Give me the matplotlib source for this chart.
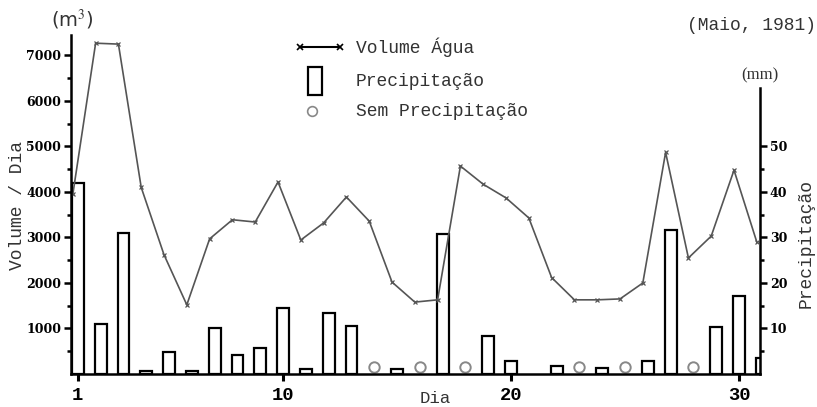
import matplotlib
matplotlib.use('Agg')
import matplotlib.pyplot as plt
from matplotlib.lines import Line2D
from matplotlib.patches import Rectangle

# daily values, May 1981
days = list(range(1, 32))
volume = [3950, 7270, 7250, 4100, 2620, 1520, 2970, 3390, 3340, 4220,
          2945, 3320, 3890, 3360, 2020, 1580, 1630, 4570, 4170, 3870,
          3430, 2120, 1630, 1630, 1650, 2000, 4870, 2550, 3030, 4480, 2900]
# precipitation in mm (None = no data drawn)
precip = [42.0, 11.0, 31.0, 0.7, 4.8, 0.7, 10.1, 4.2, 5.7, 14.5,
          1.1, 13.4, 10.6, None, 1.1, None, 30.8, None, 8.4, 2.9,
          None, 1.8, None, 1.3, None, 2.9, 31.6, None, 10.4, 17.1, 3.6]
dry_days = [14, 16, 18, 23, 25, 28]
xticks = [1, 10, 20, 30]
vol_ticks = [1000, 2000, 3000, 4000, 5000, 6000, 7000]
mm_ticks = [10, 20, 30, 40, 50]

W, H = 817, 407
def fx(x):
    return x / W
def fy(y):
    return 1 - y / H

mono = 'Liberation Mono'
serif = 'DejaVu Serif'
plt.rcParams['mathtext.fontset'] = 'stix'

fig = plt.figure(figsize=(W / 100, H / 100), dpi=100)
axv = fig.add_axes([fx(71), fy(374), (760 - 71) / W, (374 - 35) / H])
axp = axv.twinx()
axv.set_zorder(axp.get_zorder() + 1)
axv.patch.set_visible(False)

# bars (precipitation)
bx = [d for d, p in zip(days, precip) if p is not None]
bh = [p for p in precip if p is not None]
axp.bar(bx, bh, width=0.52, facecolor='white', edgecolor='black', linewidth=1.6)
axp.plot(dry_days, [1.5] * len(dry_days), 'o', ms=7.5, mfc='white', mec='#888888', mew=1.4,
         clip_on=False)

# volume line, drawn slightly left of the day positions as in the original
shift = -0.22
axv.plot([d + shift for d in days], volume, '-x', color='#555555', lw=1.2, ms=3.5, mew=0.9)

axv.set_xlim(0.7, 30.92)
axv.set_ylim(0, 7450)
axp.set_ylim(0, 74.5)

for a in (axv, axp):
    a.spines['top'].set_visible(False)
    for s in ('left', 'right', 'bottom'):
        a.spines[s].set_linewidth(1.8)
axv.spines['right'].set_visible(False)
axp.spines['left'].set_visible(False)
axp.spines['bottom'].set_visible(False)
axp.spines['right'].set_bounds(0, 62.8)

axv.set_xticks(xticks)
axv.set_xticklabels([str(t) for t in xticks], family=mono, weight='bold', fontsize=13.5)
axv.tick_params(axis='x', direction='out', length=5, width=2.2, pad=4)

axv.set_yticks(vol_ticks)
axv.set_yticks([v + 500 for v in [0] + vol_ticks[:-1]], minor=True)
axv.set_yticklabels([str(t) for t in vol_ticks], family=serif, weight='bold', fontsize=9)
axv.tick_params(axis='y', which='major', direction='out', length=5, width=1.8, pad=2)
axv.tick_params(axis='y', which='minor', direction='out', length=3, width=1.8)

axp.set_yticks(mm_ticks)
axp.set_yticks([5, 15, 25, 35, 45], minor=True)
axp.set_yticklabels([str(t) for t in mm_ticks], family=serif, weight='bold', fontsize=9)
axp.tick_params(axis='y', which='major', direction='out', length=5, width=1.8, pad=2)
axp.tick_params(axis='y', which='minor', direction='out', length=3, width=1.8)

# axis titles and notes
txt = '#333333'
fig.text(fx(18), fy(205), 'Volume / Dia', family=mono, fontsize=13, rotation=90,
         ha='center', va='center', color=txt)
fig.text(fx(806), fy(243), 'Precipitação', family=mono, fontsize=13, rotation=90,
         ha='center', va='center', color=txt)
fig.text(fx(435), fy(406), 'Dia', family=mono, fontsize=12.5, ha='center', va='bottom',
         color=txt)
fig.text(fx(72), fy(20), '(m$^3$)', fontsize=14, ha='center', va='center', color=txt)
fig.text(fx(760), fy(75), '(mm)', family='Liberation Serif', fontsize=12,
         ha='center', va='center', color=txt)
fig.text(fx(816), fy(25), '(Maio, 1981)', family=mono, fontsize=13, ha='right',
         va='center', color=txt)

# legend drawn by hand
fig.add_artist(Line2D([fx(300), fx(340)], [fy(47), fy(47)], color='black', lw=1.5,
                      marker='x', ms=4, mew=1.2))
fig.add_artist(Rectangle((fx(308), fy(95)), 14 / W, 28 / H, facecolor='white',
                         edgecolor='black', lw=1.6))
fig.add_artist(Line2D([fx(312)], [fy(111)], marker='o', ms=7, mfc='white',
                      mec='#888888', mew=1.2, lw=0))
fig.text(fx(356), fy(47), 'Volume Água', family=mono, fontsize=13, va='center', color=txt)
fig.text(fx(356), fy(82), 'Precipitação', family=mono, fontsize=13, va='center', color=txt)
fig.text(fx(356), fy(111), 'Sem Precipitação', family=mono, fontsize=13, va='center',
         color=txt)

fig.savefig('out.png', dpi=100)
